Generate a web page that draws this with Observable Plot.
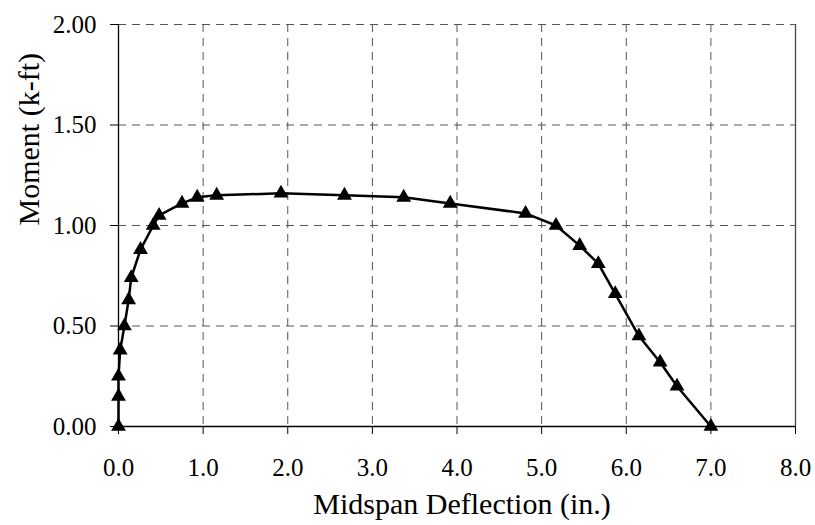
<!DOCTYPE html>
<html>
<head>
<meta charset="utf-8">
<script src="https://cdn.jsdelivr.net/npm/d3@7"></script>
<script src="https://cdn.jsdelivr.net/npm/@observablehq/plot@0.6"></script>
<style>
  html, body { margin: 0; padding: 0; background: #fff; }
  #chart { width: 815px; height: 525px; }
</style>
</head>
<body>
<div id="chart"></div>
<script>
// Midspan deflection (in.)
const deflection = [0.00, 0.00, 0.00, 0.02, 0.07, 0.12, 0.15, 0.26, 0.41, 0.48, 0.75, 0.93, 1.16, 1.92, 2.67, 3.37, 3.92, 4.81, 5.17, 5.45, 5.67, 5.87, 6.15, 6.40, 6.60, 7.00];
// Moment (k-ft)
const moment = [0.00, 0.15, 0.25, 0.38, 0.50, 0.63, 0.74, 0.88, 1.00, 1.05, 1.11, 1.14, 1.15, 1.16, 1.15, 1.14, 1.11, 1.06, 1.00, 0.90, 0.81, 0.66, 0.45, 0.32, 0.20, 0.00];
const xTicks = [0, 1, 2, 3, 4, 5, 6, 7, 8];
const yTicks = [0, 0.5, 1.0, 1.5, 2.0];
const xTickLabels = ["0.0", "1.0", "2.0", "3.0", "4.0", "5.0", "6.0", "7.0", "8.0"];
const yTickLabels = ["0.00", "0.50", "1.00", "1.50", "2.00"];
const xGrid = [1, 2, 3, 4, 5, 6, 7];
const yGrid = [0.5, 1.0, 1.5, 2.0];
const xTitle = "Midspan Deflection (in.)";
const yTitle = "Moment (k-ft)";

const serif = "'Liberation Serif', 'Times New Roman', serif";
const data = deflection.map((d, i) => ({x: d, y: moment[i]}));

const chart = Plot.plot({
  width: 815,
  height: 525,
  marginLeft: 118,
  marginRight: 20,
  marginTop: 24,
  marginBottom: 99,
  style: {fontFamily: serif, background: "#fff", overflow: "visible"},
  x: {domain: [0, 8]},
  y: {domain: [0, 2]},
  marks: [
    Plot.ruleX(xGrid, {stroke: "#555", strokeOpacity: 1, strokeWidth: 1, strokeDasharray: "8,6"}),
    Plot.ruleY(yGrid, {stroke: "#555", strokeOpacity: 1, strokeWidth: 1, strokeDasharray: "8,6"}),
    Plot.ruleX([8], {stroke: "#444", strokeWidth: 1.3}),
    Plot.axisX({ticks: xTicks, tickSize: 8, tickFormat: () => "", label: null, stroke: "#000"}),
    Plot.axisY({ticks: yTicks, tickSize: 8, tickFormat: () => "", label: null, stroke: "#000"}),
    Plot.text(xTicks, {x: d => d, text: (d, i) => xTickLabels[i], frameAnchor: "bottom", lineAnchor: "bottom", dy: 49, fontSize: 25, fontFamily: serif, fill: "#000"}),
    Plot.text(yTicks, {y: d => d, text: (d, i) => yTickLabels[i], frameAnchor: "left", textAnchor: "end", lineAnchor: "middle", dx: -22, fontSize: 25, fontFamily: serif, fill: "#000"}),
    Plot.text([xTitle], {frameAnchor: "bottom", lineAnchor: "bottom", dx: 5, dy: 87, fontSize: 30, fontFamily: serif, fill: "#000"}),
    Plot.text([yTitle], {frameAnchor: "left", lineAnchor: "middle", rotate: -90, dx: -89, fontSize: 30, fontFamily: serif, fill: "#000"}),
    Plot.ruleX([0], {stroke: "#000", strokeWidth: 1.3}),
    Plot.ruleY([0], {stroke: "#000", strokeWidth: 1.3}),
    Plot.line(data, {x: "x", y: "y", stroke: "#000", strokeWidth: 2.5}),
    Plot.dot(data, {x: "x", y: "y", symbol: "triangle", r: 5.5, fill: "#000", stroke: "none"})
  ]
});
document.getElementById("chart").append(chart);
</script>
</body>
</html>
